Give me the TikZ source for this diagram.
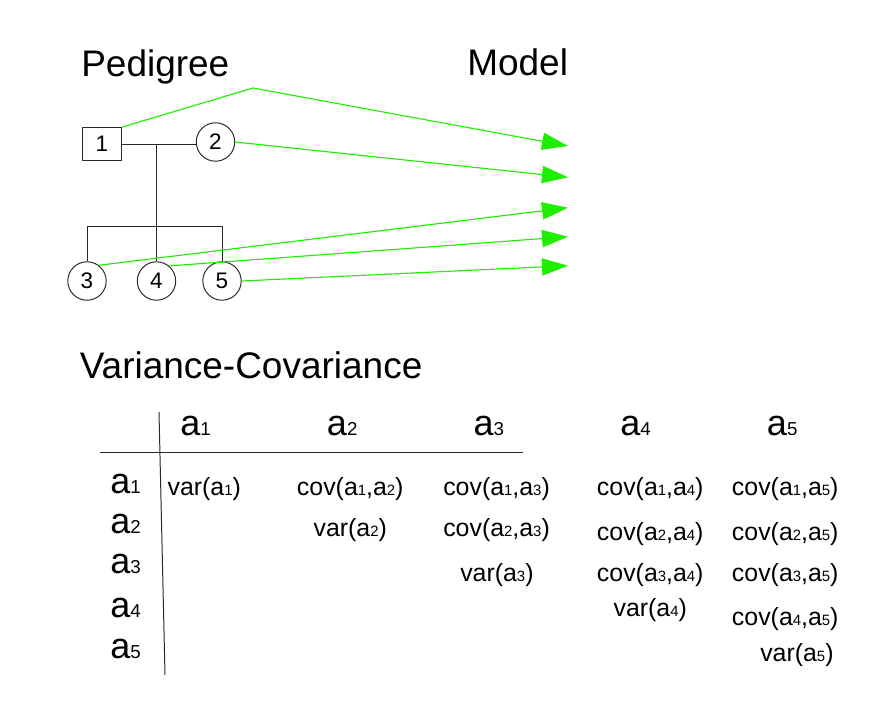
\documentclass[tikz,border=0pt]{standalone}
\usepackage{fontspec}
\setmainfont{Liberation Sans}
\usepackage{graphicx}
\usepackage{tikz}
\usetikzlibrary{arrows.meta,positioning,calc}
\usepackage{xcolor}
\definecolor{cLink}{RGB}{30,238,0}
\definecolor{cLine}{RGB}{40,40,40}
\newcommand{\ai}[1]{a\scalebox{0.6}{#1}}
\newcommand{\ah}[1]{a\scalebox{0.52}{#1}}

\begin{document}
\begin{tikzpicture}[x=0.025cm, y=-0.025cm,
    male/.style={draw=cLine, line width=0.7pt, minimum width=0.98cm, minimum height=0.82cm, font=\fontsize{16}{18}\selectfont},
    female/.style={draw=cLine, line width=0.7pt, circle, minimum size=0.96cm, inner sep=0pt, font=\fontsize{16}{18}\selectfont},
    title/.style={anchor=base west, inner sep=0pt, font=\fontsize{26.3}{30}\selectfont},
    head/.style={anchor=base west, inner sep=0pt, font=\fontsize{25.6}{30}\selectfont},
    cell/.style={anchor=base west, inner sep=0pt, font=\fontsize{17.7}{21}\selectfont},
    link/.style={cLink, line width=0.8pt, -{Triangle[length=0.65cm, width=0.43cm]}}]
  \useasboundingbox (0,0) rectangle (880,704);
  % titles
  \node[title] (tPed) at (81,76.7) {Pedigree};
  \node[title] (tMod) at (467,75) {Model};
  \node[title] (tVar) at (79.5,378.3) {Variance-Covariance};
  % pedigree
  \node[male] (n1) at (102,144) {1};
  \node[female] (n2) at (215.5,142) {2};
  \node[female] (n3) at (87,281) {3};
  \node[female] (n4) at (156.5,281) {4};
  \node[female] (n5) at (222,281) {5};
  \coordinate (mid) at (156.5,144);
  \coordinate (sib) at (156.5,226.7);
  \draw[cLine, line width=0.7pt] (n1.east) -- (n1.east -| n2.west);
  \draw[cLine, line width=0.7pt] (mid) -- (sib);
  \draw[cLine, line width=0.7pt] (n3.north) |- (sib) -| (n5.north);
  \draw[cLine, line width=0.7pt] (sib) -- (n4.north);
  % links to the model
  \coordinate (bend) at (253,88);
  \coordinate (m1) at (568,146);
  \coordinate (m2) at (568,177.3);
  \coordinate (m3) at (568,207.7);
  \coordinate (m4) at (568,236.7);
  \coordinate (m5) at (568,265.7);
  \draw[link] (n1.north east) -- (bend) -- (m1);
  \draw[link] (n2.east) -- (m2);
  \draw[link] (n3.53) -- (m3);
  \draw[link] (n4.50) -- (m4);
  \draw[link] (n5.east) -- (m5);
  % variance-covariance table
  \draw[cLine, line width=0.7pt] (159,412) -- (165,675);
  \draw[cLine, line width=0.7pt] (100,452) -- (523,452);
  \node[head] (c1) at (180,435) {\ah{1}};
  \node[head] (c2) at (326.7,435) {\ah{2}};
  \node[head] (c3) at (473.3,435) {\ah{3}};
  \node[head] (c4) at (620,435) {\ah{4}};
  \node[head] (c5) at (766.7,435) {\ah{5}};
  \node[head] (r1) at (110,493.3) {\ah{1}};
  \node[head] (r2) at (110,533.3) {\ah{2}};
  \node[head] (r3) at (110,573.3) {\ah{3}};
  \node[head] (r4) at (110,617) {\ah{4}};
  \node[head] (r5) at (110,658.3) {\ah{5}};
  \node[cell] (v11) at (167.3,495) {var(\ai{1})};
  \node[cell] (v12) at (296.7,495) {cov(\ai{1},\ai{2})};
  \node[cell] (v22) at (313.3,536.7) {var(\ai{2})};
  \node[cell] (v13) at (443,495) {cov(\ai{1},\ai{3})};
  \node[cell] (v23) at (443,536.7) {cov(\ai{2},\ai{3})};
  \node[cell] (v33) at (460,581.7) {var(\ai{3})};
  \node[cell] (v14) at (596.7,495) {cov(\ai{1},\ai{4})};
  \node[cell] (v24) at (596.7,540) {cov(\ai{2},\ai{4})};
  \node[cell] (v34) at (596.7,581.7) {cov(\ai{3},\ai{4})};
  \node[cell] (v44) at (613.3,616.7) {var(\ai{4})};
  \node[cell] (v15) at (731.7,495) {cov(\ai{1},\ai{5})};
  \node[cell] (v25) at (731.7,540) {cov(\ai{2},\ai{5})};
  \node[cell] (v35) at (731.7,581.7) {cov(\ai{3},\ai{5})};
  \node[cell] (v45) at (731.7,625) {cov(\ai{4},\ai{5})};
  \node[cell] (v55) at (760,661.7) {var(\ai{5})};
\end{tikzpicture}
\end{document}
